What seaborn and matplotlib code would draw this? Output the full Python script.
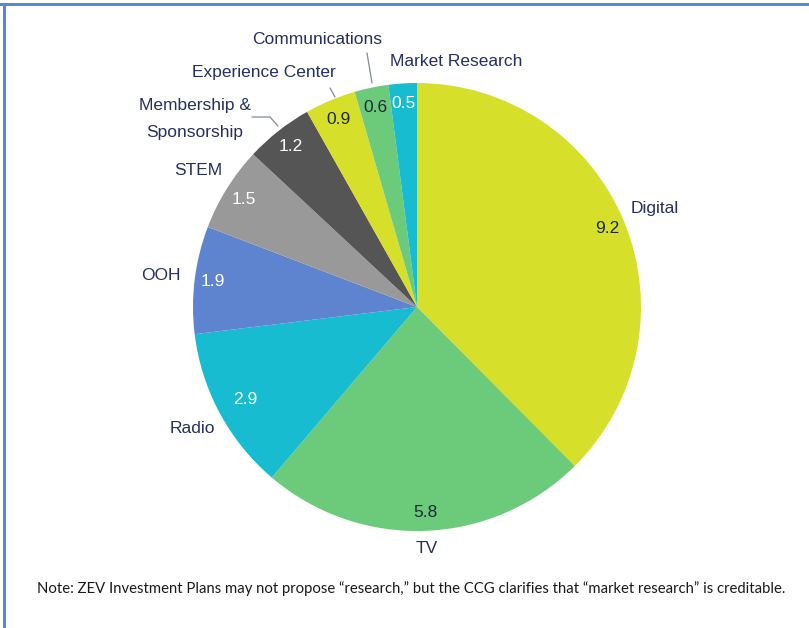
import matplotlib
matplotlib.use("Agg")
import matplotlib.pyplot as plt
import numpy as np
import seaborn as sns

# Spending by category
categories = ["Digital", "TV", "Radio", "OOH", "STEM", "Membership &\nSponsorship",
              "Experience Center", "Communications", "Market Research"]
values = [9.2, 5.8, 2.9, 1.9, 1.5, 1.2, 0.9, 0.6, 0.5]
value_labels = ["9.2", "5.8", "2.9", "1.9", "1.5", "1.2", "0.9", "0.6", "0.5"]
note = ("Note: ZEV Investment Plans may not propose \u201cresearch,\u201d but the CCG "
        "clarifies that \u201cmarket research\u201d is creditable.")

colors = ["#D6E02A", "#6CCB7A", "#17BCD0", "#5F84CF", "#999999", "#555555",
          "#D6E02A", "#6CCB7A", "#17BCD0"]
value_colors = ["#1E2A3A", "#1E2A3A", "white", "white", "white", "white",
                "#1E2A3A", "#1E2A3A", "white"]
navy = "#25305E"

sns.set_theme(style="white")
plt.rcParams["font.family"] = ["Liberation Sans", "DejaVu Sans"]

W, H = 809, 628
fig = plt.figure(figsize=(W / 100, H / 100), dpi=100)
ax = fig.add_axes([0, 0, 1, 1])

cx, cy, R = 417, 321, 224
wedges, _ = ax.pie(values, colors=colors, startangle=90, counterclock=False,
                   center=(cx, cy), radius=R, frame=True,
                   wedgeprops=dict(linewidth=0))
ax.set_xlim(0, W)
ax.set_ylim(0, H)
ax.set_aspect("equal")
ax.axis("off")

val_dist = [0.92, 0.92, 0.87, 0.92, 0.91, 0.91, 0.91, 0.91, 0.91]
lab_dist = [1.15, 1.08, 1.14, 1.15, 1.15, None, None, None, None]
fs = 12.5

for i, w in enumerate(wedges):
    mid = np.deg2rad((w.theta1 + w.theta2) / 2)
    vx = cx + val_dist[i] * R * np.cos(mid)
    vy = cy + val_dist[i] * R * np.sin(mid)
    ax.text(vx, vy, value_labels[i], ha="center", va="center",
            fontsize=fs, color=value_colors[i])
    if lab_dist[i] is not None:
        lx = cx + lab_dist[i] * R * np.cos(mid)
        ly = cy + lab_dist[i] * R * np.sin(mid)
        ax.text(lx, ly, categories[i], ha="center", va="center",
                fontsize=fs, color=navy)

# Small slices at the top: labels set off with leader lines
top_labels = {5: (195, 509), 6: (264, 556), 7: (317, 589), 8: (456, 566)}
for i, (x, y) in top_labels.items():
    ax.text(x, y, categories[i], ha="center", va="center", fontsize=fs,
            color=navy, linespacing=2.05)

lc = "#7F8A9C"
ax.plot([252, 270, 278], [H - 117, H - 117, H - 126], color=lc, lw=0.9)
ax.plot([330, 335], [H - 88, H - 97], color=lc, lw=0.9)
ax.plot([367, 372], [H - 53, H - 83], color=lc, lw=0.9)

ax.text(37, H - 589, note, ha="left", va="center", fontsize=10.7,
        color="#1A1A1A", family=["Lato", "DejaVu Sans"])

# Frame edges
border = "#5B87D6"
fig.add_artist(plt.Line2D([0, 1], [1 - 3.5 / H] * 2, color=border, lw=2.2,
                          transform=fig.transFigure))
fig.add_artist(plt.Line2D([3.5 / W] * 2, [0, 1 - 3.5 / H], color=border, lw=2.2,
                          transform=fig.transFigure))

fig.savefig("out.png", dpi=100, facecolor="white")
